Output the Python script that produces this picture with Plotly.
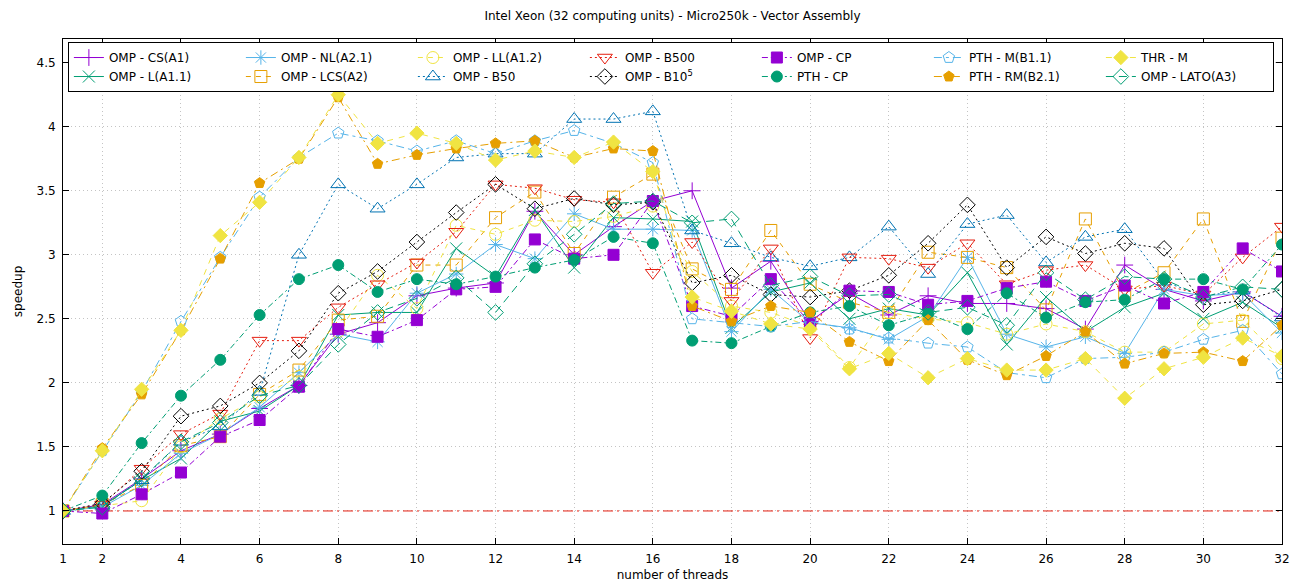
import plotly.graph_objects as go

threads = list(range(1, 33))
x_ticks = [1, 2, 4, 6, 8, 10, 12, 14, 16, 18, 20, 22, 24, 26, 28, 30, 32]
y_ticks = [1, 1.5, 2, 2.5, 3, 3.5, 4, 4.5]
baseline = [1.0, 1.0]
baseline_x = [1, 32]

omp_cs = [1.0, 1.05, 1.25, 1.47, 1.60, 1.80, 1.98, 2.38, 2.47, 2.68, 2.74, 2.78, 3.34, 3.00, 3.22, 3.42,
          3.50, 2.74, 2.95, 2.48, 2.70, 2.53, 2.68, 2.62, 2.62, 2.58, 2.42, 2.92, 2.73, 2.64, 2.71, 2.52]
omp_l = [1.0, 1.04, 1.24, 1.41, 1.70, 1.78, 1.98, 2.53, 2.55, 2.55, 3.05, 2.83, 3.35, 2.90, 3.29, 3.28,
         3.26, 2.43, 2.71, 2.78, 2.50, 2.58, 2.53, 2.86, 2.30, 2.67, 2.40, 2.59, 2.70, 2.50, 2.63, 2.43]
omp_nl = [1.0, 1.03, 1.20, 1.45, 1.60, 1.81, 2.08, 2.38, 2.32, 2.70, 2.85, 3.08, 2.97, 3.32, 3.20, 3.20,
          3.19, 2.40, 2.73, 2.47, 2.43, 2.34, 2.52, 2.98, 2.38, 2.28, 2.36, 2.23, 2.73, 2.68, 2.70, 2.39]
omp_lcs = [1.0, 1.05, 1.20, 1.51, 1.58, 1.91, 2.10, 2.49, 2.52, 2.92, 2.92, 3.29, 3.49, 3.01, 3.45, 3.63,
           2.89, 2.73, 3.19, 2.77, 2.63, 2.55, 3.02, 2.98, 2.90, 2.57, 3.28, 2.70, 2.86, 3.28, 2.48, 3.13]
omp_ll = [1.0, 1.04, 1.08, 1.50, 1.72, 1.89, 2.05, 2.40, 2.84, 2.58, 3.23, 3.16, 3.27, 3.26, 3.30, 3.38,
          2.87, 2.60, 2.55, 2.44, 2.12, 2.55, 2.50, 2.47, 2.38, 2.46, 2.40, 2.24, 2.24, 2.46, 2.49, 2.19]
omp_b50 = [1.0, 1.04, 1.24, 1.54, 1.66, 1.93, 3.00, 3.55, 3.36, 3.55, 3.76, 3.79, 3.79, 4.06, 4.06, 4.12,
           3.19, 3.09, 2.98, 2.91, 2.98, 3.22, 2.85, 3.24, 3.31, 2.94, 3.14, 3.20, 2.79, 2.68, 2.72, 2.51]
omp_b500 = [1.0, 1.05, 1.33, 1.60, 1.76, 2.33, 2.33, 2.59, 2.77, 2.94, 3.18, 3.55, 3.52, 3.43, 3.41, 2.86,
            3.10, 2.64, 3.05, 2.35, 2.98, 2.97, 2.90, 3.09, 2.77, 2.88, 2.92, 2.73, 2.76, 2.69, 2.98, 3.22]
omp_b1e5 = [1.0, 1.06, 1.31, 1.74, 1.82, 2.00, 2.25, 2.70, 2.87, 3.10, 3.33, 3.55, 3.36, 3.44, 3.39, 3.41,
            2.78, 2.84, 2.69, 2.67, 2.72, 2.84, 3.09, 3.39, 2.90, 3.14, 3.01, 3.09, 3.05, 2.61, 2.64, 2.73]
omp_cp = [1.0, 0.98, 1.13, 1.30, 1.58, 1.71, 1.97, 2.42, 2.36, 2.49, 2.73, 2.75, 3.12, 2.97, 3.00, 3.42,
          2.60, 2.52, 2.81, 2.47, 2.72, 2.71, 2.61, 2.64, 2.74, 2.79, 2.64, 2.76, 2.62, 2.71, 3.05, 2.87]
pth_cp = [1.0, 1.12, 1.53, 1.90, 2.18, 2.53, 2.81, 2.92, 2.71, 2.81, 2.77, 2.83, 2.90, 2.96, 3.14, 3.09,
          2.33, 2.31, 2.44, 2.55, 2.60, 2.45, 2.54, 2.42, 2.70, 2.51, 2.63, 2.65, 2.81, 2.81, 2.73, 3.08]
pth_m = [1.0, 1.47, 1.93, 2.48, 2.98, 3.45, 3.76, 3.95, 3.89, 3.81, 3.89, 3.79, 3.89, 3.97, 3.87, 3.72,
         2.50, 2.47, 2.44, 2.48, 2.42, 2.35, 2.31, 2.28, 2.08, 2.04, 2.19, 2.20, 2.24, 2.34, 2.41, 2.07]
pth_rm = [1.0, 1.49, 1.91, 2.41, 2.97, 3.56, 3.75, 4.23, 3.71, 3.78, 3.83, 3.87, 3.89, 3.76, 3.83, 3.81,
          2.60, 2.48, 2.60, 2.55, 2.32, 2.17, 2.49, 2.18, 2.06, 2.21, 2.40, 2.15, 2.23, 2.24, 2.17, 2.45]
thr_m = [1.0, 1.47, 1.95, 2.41, 3.15, 3.41, 3.76, 4.25, 3.87, 3.95, 3.87, 3.74, 3.81, 3.76, 3.88, 3.65,
         2.67, 2.56, 2.46, 2.42, 2.11, 2.23, 2.04, 2.19, 2.10, 2.10, 2.19, 1.88, 2.11, 2.20, 2.35, 2.21]
omp_lato = [1.0, 1.03, 1.25, 1.54, 1.69, 1.90, 1.98, 2.30, 2.55, 2.66, 2.82, 2.55, 2.93, 3.16, 3.40, 3.42,
            3.25, 3.28, 2.76, 2.83, 2.68, 2.69, 2.55, 2.59, 2.45, 2.86, 2.65, 2.83, 2.81, 2.67, 2.75, 2.73]

PURPLE, GREEN, LBLUE, ORANGE = "#9400d3", "#009e73", "#56b4e9", "#e69f00"
YELLOW, BLUE, RED, BLACK = "#f0e442", "#0072b2", "#e51e10", "#000000"

# name, data, color, dash, symbol, legend rank (row-wise fill of a 7-column legend)
series = [
    ("OMP - CS(A1)", omp_cs, PURPLE, "solid", "cross-thin-open", 1),
    ("OMP - L(A1.1)", omp_l, GREEN, "solid", "x-thin-open", 8),
    ("OMP - NL(A2.1)", omp_nl, LBLUE, "solid", "asterisk-open", 2),
    ("OMP - LCS(A2)", omp_lcs, ORANGE, "5px,5px", "square-open", 9),
    ("OMP - LL(A1.2)", omp_ll, YELLOW, "5px,5px", "circle-open", 3),
    ("OMP - B50", omp_b50, BLUE, "2px,3px", "triangle-up-open", 10),
    ("OMP - B500", omp_b500, RED, "2px,3px", "triangle-down-open", 4),
    ("OMP - B10<sup>5</sup>", omp_b1e5, BLACK, "2px,3px", "diamond-open", 11),
    ("OMP - CP", omp_cp, PURPLE, "6px,3px,2px,3px", "square", 5),
    ("PTH - CP", pth_cp, GREEN, "6px,3px,2px,3px", "circle", 12),
    ("PTH - M(B1.1)", pth_m, LBLUE, "8px,4px,3px,4px", "pentagon-open", 6),
    ("PTH - RM(B2.1)", pth_rm, ORANGE, "8px,4px,2px,4px", "pentagon", 13),
    ("THR - M", thr_m, YELLOW, "6px,6px", "diamond", 7),
    ("OMP - LATO(A3)", omp_lato, GREEN, "8px,5px", "diamond-open", 14),
]

fig = go.Figure()

fig.add_trace(go.Scatter(
    x=baseline_x, y=baseline, mode="lines", showlegend=False, hoverinfo="skip",
    line=dict(color=RED, width=1, dash="10px,4px,2px,4px"),
))

for name, vals, color, dash, symbol, rank in series:
    size = 13 if "triangle" in symbol else 12
    if symbol in ("square", "circle", "pentagon", "diamond"):
        size = 11
    fig.add_trace(go.Scatter(
        x=threads, y=vals, mode="lines+markers", name=name, legendrank=rank,
        line=dict(color=color, width=1, dash=dash),
        marker=dict(symbol=symbol, size=size, color=color,
                    line=dict(color=color, width=1)),
    ))

font = "DejaVu Sans, Liberation Sans, sans-serif"

fig.update_layout(
    width=1292, height=583,
    margin=dict(l=63, r=10, t=39, b=39),
    paper_bgcolor="white", plot_bgcolor="white",
    font=dict(family=font, size=12, color="black"),
    title=dict(text="Intel Xeon (32 computing units) - Micro250k - Vector Assembly",
               x=0.5, xref="paper", y=1 - 16 / 583, yref="container",
               xanchor="center", yanchor="middle", font=dict(size=12)),
    legend=dict(orientation="h", x=0.004, y=0.994, xanchor="left", yanchor="top",
                bgcolor="white", bordercolor="black", borderwidth=1,
                entrywidth=127, entrywidthmode="pixels",
                font=dict(size=12), tracegroupgap=0, itemwidth=30),
    showlegend=True,
)

fig.update_xaxes(
    range=[1, 32], tickvals=x_ticks, ticks="inside", ticklen=6, tickcolor="black",
    showline=True, linecolor="black", linewidth=1, mirror="allticks",
    showgrid=True, gridcolor="#c4c4c4", griddash="1px,3px", gridwidth=1,
    zeroline=False, automargin=False, ticklabelstandoff=4,
    title=dict(text="number of threads", standoff=5, font=dict(size=12)),
)
fig.update_yaxes(
    range=[0.742, 4.685], tickvals=y_ticks, ticks="inside", ticklen=6, tickcolor="black",
    showline=True, linecolor="black", linewidth=1, mirror="allticks",
    showgrid=True, gridcolor="#c4c4c4", griddash="1px,3px", gridwidth=1,
    zeroline=False, automargin=False, ticklabelstandoff=4,
    title=dict(text="speedup", standoff=11, font=dict(size=12)),
)

fig.write_html("out.html", config={"displayModeBar": False},
               post_script="document.body.style.margin='0px';")
